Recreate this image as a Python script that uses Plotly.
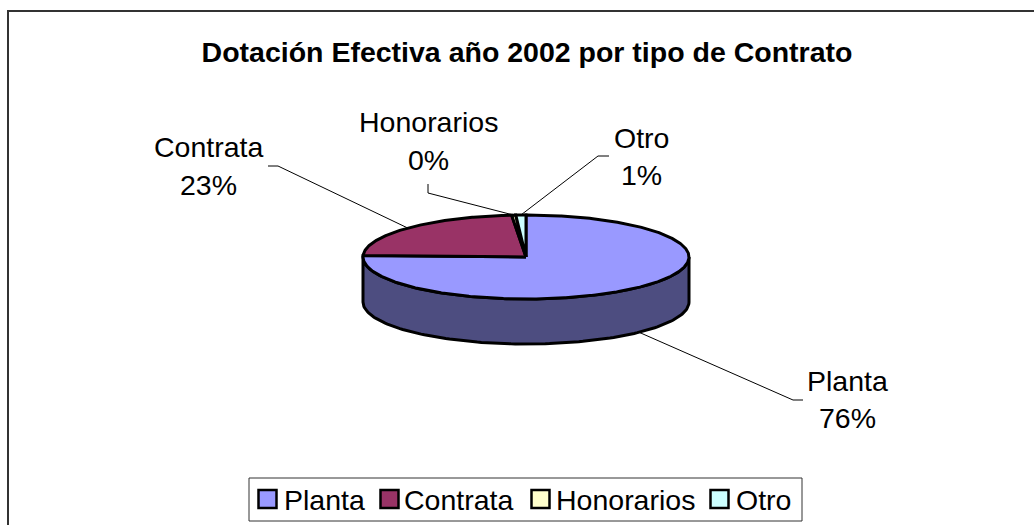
import numpy as np
import plotly.graph_objects as go

categories = ["Planta", "Contrata", "Honorarios", "Otro"]
values = [75.6, 23.0, 0.4, 1.0]
title_text = "Dotación Efectiva año 2002 por tipo de Contrato"

colors = ["#9999FF", "#993366", "#FFFFCC", "#CCFFFF"]
side_colors = ["#4D4D80", "#4D1A33", "#808066", "#668080"]
FONT = "Liberation Sans, Arial, sans-serif"
W, H = 1034, 525
CX, CY, RX, RY, DEPTH = 526, 257, 163, 42, 45
LW = 3

# label centre x, name line y and percent line y, then elbow/end of its leader line
label_x = [847, 208, 428, 641.5]
label_name_y = [381, 147, 122, 138]
label_pct_y = [418, 185, 160, 175]
leader_elbow = [[(803, 400), (793, 400)], [(268, 166), (278, 166)],
                [(428, 184), (428, 193)], [(609, 156), (598, 156)]]
legend_x = [267.5, 389.5, 540.5, 719.5]
legend_text_x = [282, 402, 554, 734]
LEGEND_Y = 499
LEGEND_TEXT_Y = 500
LEGEND_BOX = (249, 478, 802, 521)


def ell(theta, dy=0.0):
    t = np.radians(theta)
    return CX + RX * np.sin(t), CY - RY * np.cos(t) + dy


fracs = np.array(values, dtype=float) / sum(values) * 360
ends = np.cumsum(fracs)
starts = ends - fracs

fig = go.Figure()

# side walls (front half of the rim only)
for s, e, c, name in zip(starts, ends, side_colors, categories):
    a, b = max(s, 90), min(e, 270)
    if b <= a:
        continue
    th = np.linspace(a, b, 120)
    x1, y1 = ell(th)
    x2, y2 = ell(th[::-1], DEPTH)
    fig.add_trace(go.Scatter(x=np.r_[x1, x2, x1[0]], y=np.r_[y1, y2, y1[0]], mode="lines",
                             fill="toself", fillcolor=c, line=dict(color="black", width=LW),
                             hoverinfo="skip", showlegend=False))

# top faces
for s, e, c, name, v in zip(starts, ends, colors, categories, values):
    th = np.linspace(s, e, max(int(e - s) * 2, 4))
    x, y = ell(th)
    fig.add_trace(go.Scatter(x=np.r_[CX, x, CX], y=np.r_[CY, y, CY], mode="lines",
                             fill="toself", fillcolor=c, line=dict(color="black", width=LW),
                             name=name, text=f"{name}: {v:.0f}%", hoverinfo="text", showlegend=False))

# leader lines, anchored at the middle angle of each wedge
shapes = []
for s, e, elbow in zip(starts, ends, leader_elbow):
    mid = (s + e) / 2
    ax, ay = ell(mid, DEPTH if 90 < mid < 270 else 0)
    pts = list(elbow) + [(ax, ay)]
    path = "M " + " L ".join(f"{px:.1f},{py:.1f}" for px, py in pts)
    shapes.append(dict(type="path", path=path, line=dict(color="black", width=1), layer="above"))

# outer frame: only left and top edges are visible
shapes.append(dict(type="line", x0=8, x1=8, y0=10.5, y1=H, line=dict(color="#333333", width=2)))
shapes.append(dict(type="line", x0=7, x1=W, y0=11, y1=11, line=dict(color="#333333", width=2)))
# legend box
x0, y0, x1, y1 = LEGEND_BOX
shapes.append(dict(type="rect", x0=x0, y0=y0, x1=x1, y1=y1, line=dict(color="#333333", width=1),
                   fillcolor="white", layer="below"))

# data labels
annotations = []
label_font = dict(family=FONT, size=28.5, color="black")
for name, v, lx, ny, py in zip(categories, values, label_x, label_name_y, label_pct_y):
    annotations.append(dict(x=lx, y=ny, xref="x", yref="y", showarrow=False, text=name, font=label_font))
    annotations.append(dict(x=lx, y=py, xref="x", yref="y", showarrow=False, text=f"{v:.0f}%", font=label_font))
# legend text
for name, tx in zip(categories, legend_text_x):
    annotations.append(dict(x=tx, y=LEGEND_TEXT_Y, xref="x", yref="y", showarrow=False, xanchor="left",
                            text=name, font=label_font))

# legend swatches
fig.add_trace(go.Scatter(x=legend_x, y=[LEGEND_Y] * 4, mode="markers",
                         marker=dict(symbol="square", size=18, color=colors, line=dict(color="black", width=2.5)),
                         hoverinfo="skip", showlegend=False, cliponaxis=False))

fig.update_layout(
    width=W, height=H, margin=dict(l=0, r=0, t=0, b=0, pad=0),
    paper_bgcolor="white", plot_bgcolor="white", showlegend=False,
    title=dict(text=f"<b>{title_text}</b>", x=527 / W, xanchor="center", y=1 - 52 / H, yanchor="middle",
               font=dict(family=FONT, size=28.5, color="black")),
    xaxis=dict(range=[0, W], visible=False, fixedrange=True),
    yaxis=dict(range=[H, 0], visible=False, fixedrange=True),
    shapes=shapes, annotations=annotations,
)
fig.write_html("out.html", config=dict(displayModeBar=False),
               post_script="document.body.style.margin='0';")
